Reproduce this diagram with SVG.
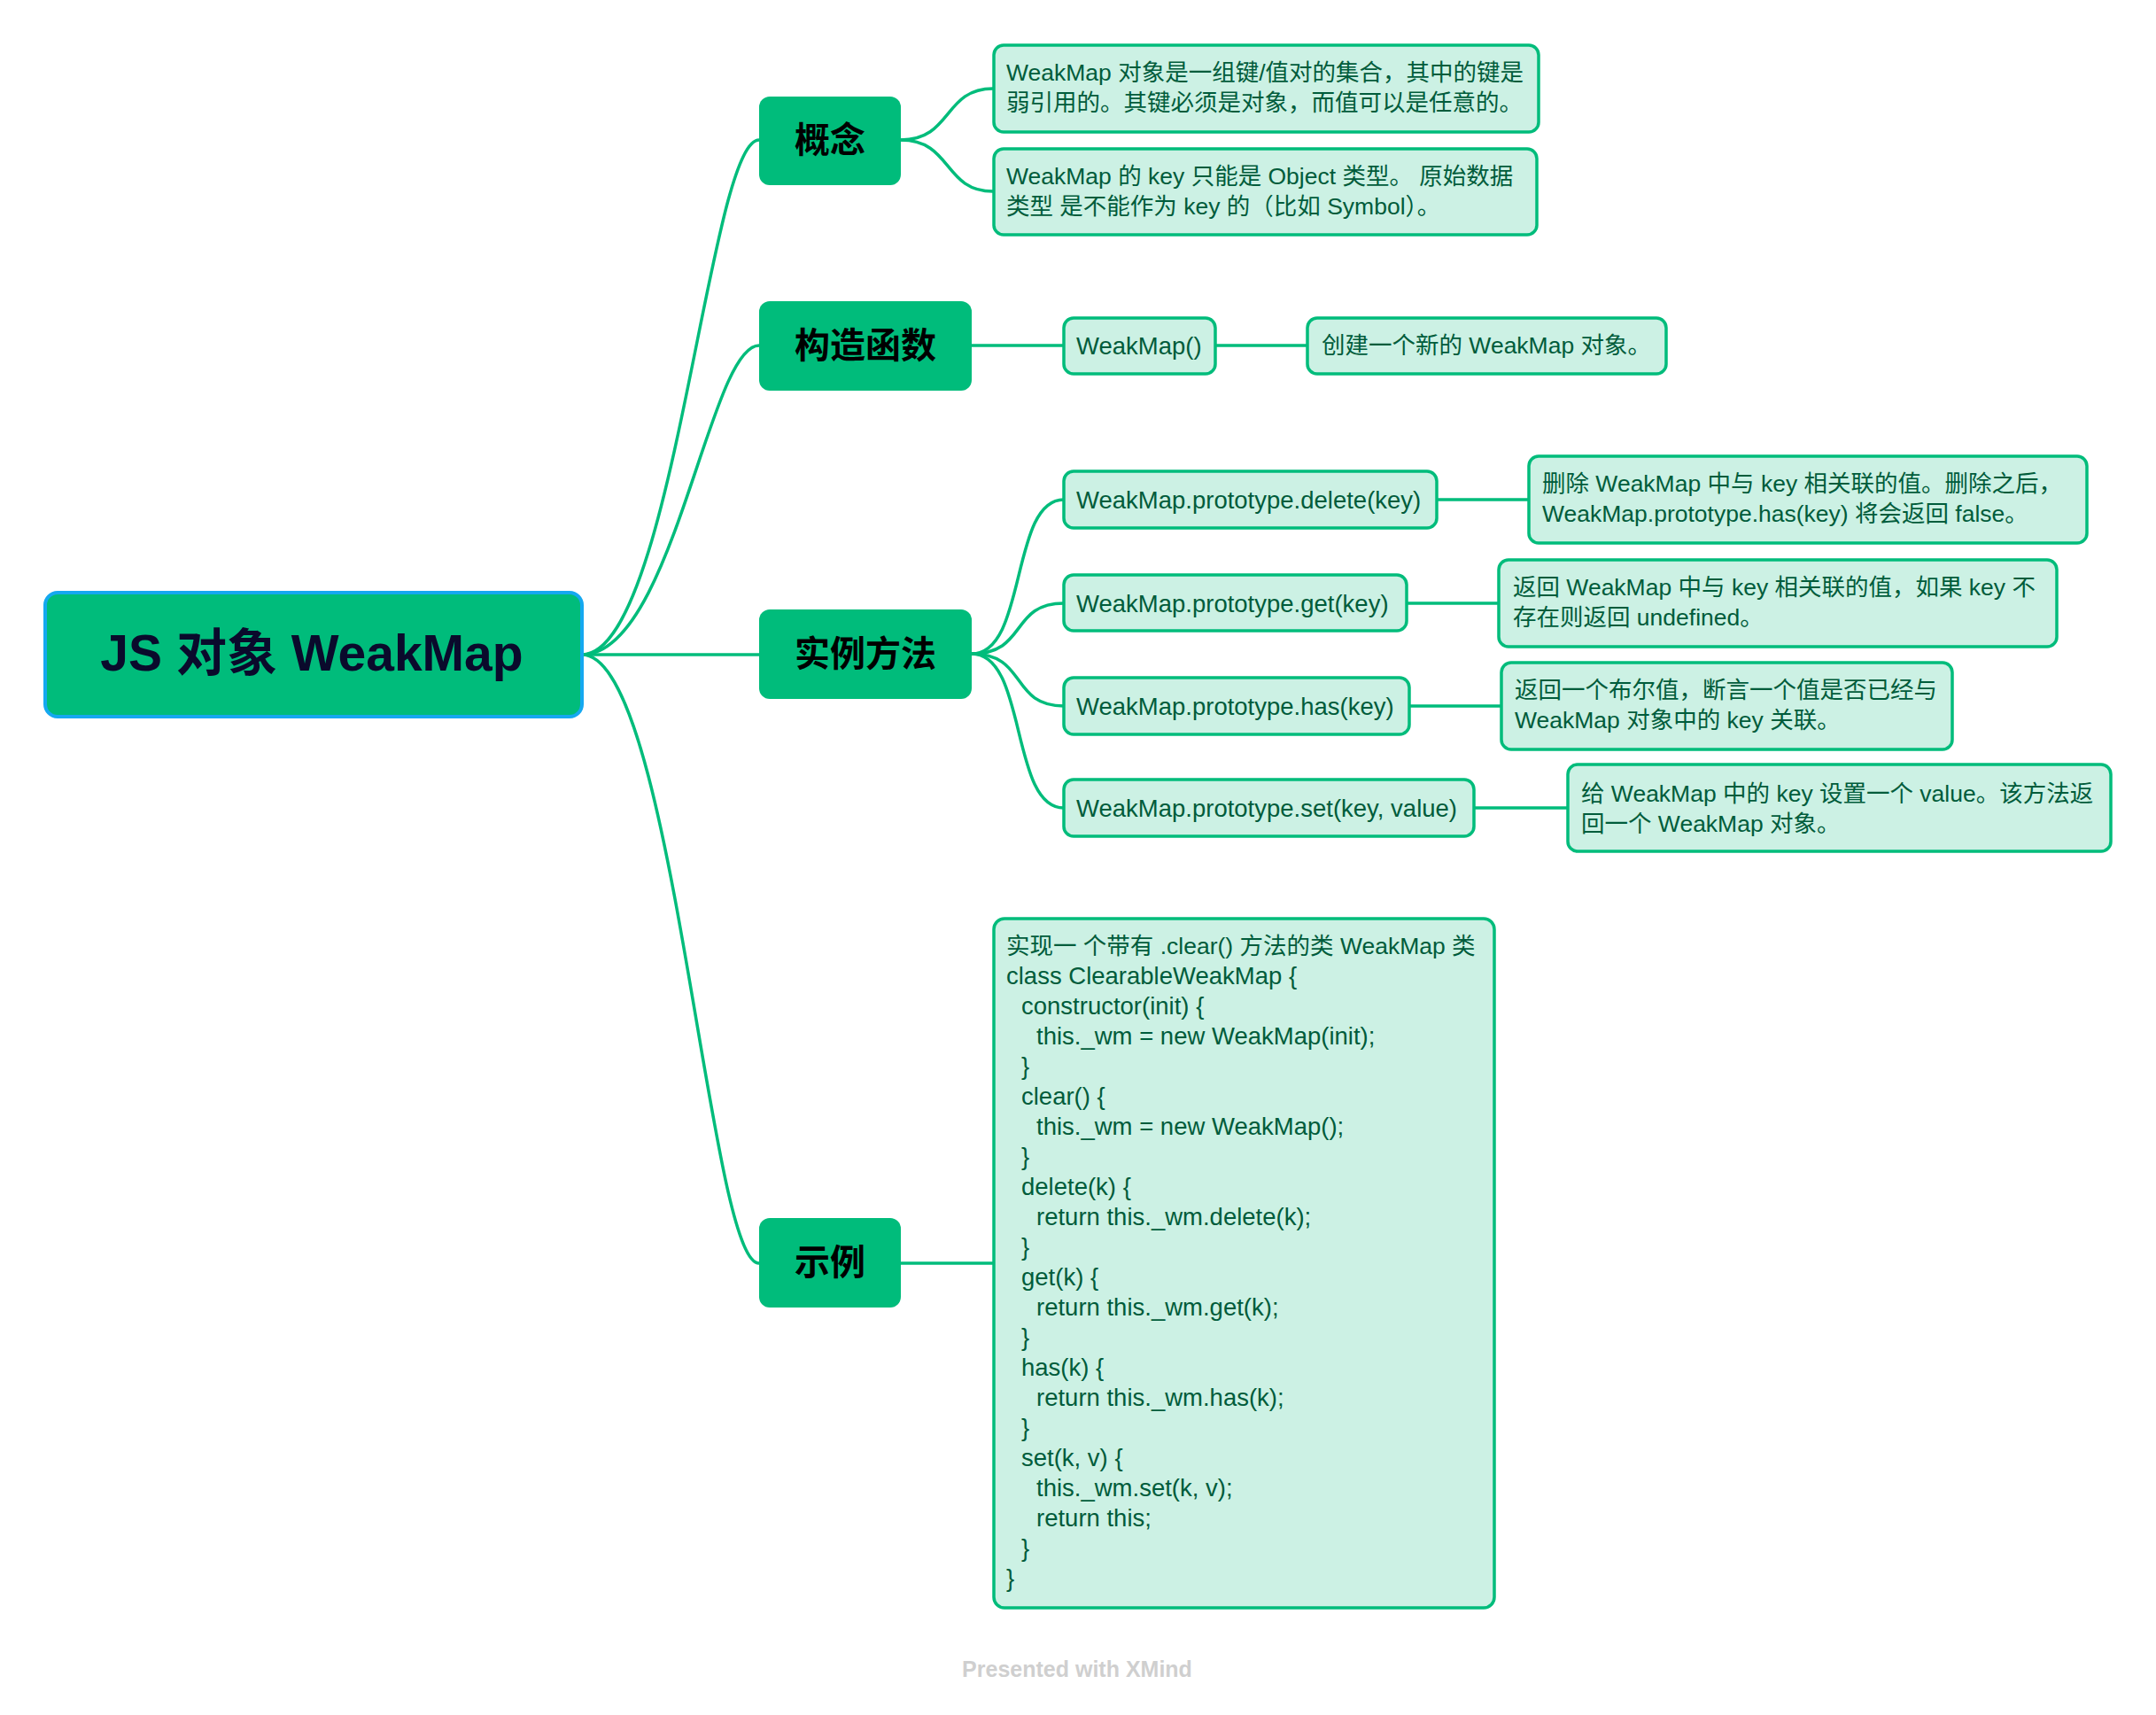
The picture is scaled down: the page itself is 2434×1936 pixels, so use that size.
<svg xmlns="http://www.w3.org/2000/svg" width="2434" height="1936" viewBox="0 0 2434 1936">
  <style>
    .root rect { fill: #00BC7B; stroke: #15A8F0; stroke-width: 4; }
    .root text { font-family: "Liberation Sans", "Noto Sans CJK SC", sans-serif; font-size: 57px; font-weight: bold; fill: #0A0A2C; text-anchor: middle; }
    .branch rect { fill: #00BC7B; }
    .branch text { font-family: "Noto Sans CJK SC", sans-serif; font-size: 40px; font-weight: bold; fill: #000; text-anchor: middle; }
    .leaf rect { fill: #CCF1E4; stroke: #00BC7B; stroke-width: 3.5; }
    .leaf text { font-family: "Liberation Sans", "Noto Sans CJK SC", sans-serif; font-size: 26.5px; fill: #005C3B; }
    .leaf text.lat, .leaf tspan.lat { font-size: 27.5px; }
    #links path { fill: none; stroke: #00BC7B; stroke-width: 3.5; }
    .mark { font-family: "Liberation Sans", sans-serif; font-size: 25px; font-weight: bold; fill: #CFCFCF; text-anchor: middle; }
  </style>

  <rect width="2434" height="1936" fill="#FFFFFF"/>

  <!-- connectors -->
  <g id="links">
    <!-- root to main branches -->
    <path d="M657 739 C760 739 800 158 857 158"/>
    <path d="M657 739 C760 739 800 390 857 390"/>
    <path d="M657 739 L857 739"/>
    <path d="M657 739 C760 739 800 1426 857 1426"/>
    <!-- 概念 -->
    <path d="M1017 158 C1075 158 1065 100 1121 100"/>
    <path d="M1017 158 C1075 158 1065 216 1121 216"/>
    <!-- 构造函数 -->
    <path d="M1097 390 L1201 390"/>
    <path d="M1372 390 L1476 390"/>
    <!-- 实例方法 -->
    <path d="M1097 738 C1160 738 1140 564 1201 564"/>
    <path d="M1097 738 C1160 738 1140 681 1201 681"/>
    <path d="M1097 738 C1160 738 1140 797 1201 797"/>
    <path d="M1097 738 C1160 738 1140 912 1201 912"/>
    <path d="M1622 564 L1726 564"/>
    <path d="M1588 681 L1692 681"/>
    <path d="M1591 797 L1695 797"/>
    <path d="M1664 912 L1770 912"/>
    <!-- 示例 -->
    <path d="M1017 1426 L1121 1426"/>
  </g>

  <!-- central topic -->
  <g id="root" class="root">
    <rect x="51" y="669" width="606" height="140" rx="14"/>
    <text x="352" y="757">JS 对象 WeakMap</text>
  </g>

  <!-- main branches -->
  <g id="concept" class="branch">
    <rect x="857" y="109" width="160" height="100" rx="12"/>
    <text x="937" y="172">概念</text>
  </g>
  <g id="ctor" class="branch">
    <rect x="857" y="340" width="240" height="101" rx="12"/>
    <text x="977" y="404">构造函数</text>
  </g>
  <g id="methods" class="branch">
    <rect x="857" y="688" width="240" height="101" rx="12"/>
    <text x="977" y="752">实例方法</text>
  </g>
  <g id="example" class="branch">
    <rect x="857" y="1375" width="160" height="101" rx="12"/>
    <text x="937" y="1439">示例</text>
  </g>

  <!-- 概念 details -->
  <g id="concept-1" class="leaf">
    <rect x="1122" y="51" width="615" height="98" rx="11"/>
    <text x="1136" y="91">WeakMap 对象是一组键/值对的集合，其中的键是</text>
    <text x="1136" y="125">弱引用的。其键必须是对象，而值可以是任意的。</text>
  </g>
  <g id="concept-2" class="leaf">
    <rect x="1122" y="168" width="613" height="97" rx="11"/>
    <text x="1136" y="208">WeakMap 的 key 只能是 Object 类型。 原始数据</text>
    <text x="1136" y="242">类型 是不能作为 key 的（比如 Symbol）。</text>
  </g>

  <!-- 构造函数 details -->
  <g id="ctor-sig" class="leaf">
    <rect x="1201" y="359" width="171" height="63" rx="11"/>
    <text class="lat" x="1215" y="400">WeakMap()</text>
  </g>
  <g id="ctor-desc" class="leaf">
    <rect x="1476" y="359" width="405" height="63" rx="11"/>
    <text x="1492" y="399">创建一个新的 WeakMap 对象。</text>
  </g>

  <!-- 实例方法 details -->
  <g id="m-delete" class="leaf">
    <rect x="1201" y="532" width="421" height="64" rx="11"/>
    <text class="lat" x="1215" y="574">WeakMap.prototype.delete(key)</text>
  </g>
  <g id="m-delete-desc" class="leaf">
    <rect x="1726" y="515" width="630" height="98" rx="11"/>
    <text x="1741" y="555">删除 WeakMap 中与 key 相关联的值。删除之后，</text>
    <text x="1741" y="589">WeakMap.prototype.has(key) 将会返回 false。</text>
  </g>
  <g id="m-get" class="leaf">
    <rect x="1201" y="649" width="387" height="63" rx="11"/>
    <text class="lat" x="1215" y="691">WeakMap.prototype.get(key)</text>
  </g>
  <g id="m-get-desc" class="leaf">
    <rect x="1692" y="632" width="630" height="98" rx="11"/>
    <text x="1708" y="672">返回 WeakMap 中与 key 相关联的值，如果 key 不</text>
    <text x="1708" y="706">存在则返回 undefined。</text>
  </g>
  <g id="m-has" class="leaf">
    <rect x="1201" y="765" width="390" height="64" rx="11"/>
    <text class="lat" x="1215" y="807">WeakMap.prototype.has(key)</text>
  </g>
  <g id="m-has-desc" class="leaf">
    <rect x="1695" y="748" width="509" height="98" rx="11"/>
    <text x="1710" y="788">返回一个布尔值，断言一个值是否已经与</text>
    <text x="1710" y="822">WeakMap 对象中的 key 关联。</text>
  </g>
  <g id="m-set" class="leaf">
    <rect x="1201" y="880" width="463" height="64" rx="11"/>
    <text class="lat" x="1215" y="922">WeakMap.prototype.set(key, value)</text>
  </g>
  <g id="m-set-desc" class="leaf">
    <rect x="1770" y="863" width="613" height="98" rx="11"/>
    <text x="1785" y="905">给 WeakMap 中的 key 设置一个 value。该方法返</text>
    <text x="1785" y="939">回一个 WeakMap 对象。</text>
  </g>

  <!-- 示例 code -->
  <g id="example-code" class="leaf">
    <rect x="1122" y="1037" width="565" height="778" rx="12"/>
    <text>
      <tspan x="1136" y="1077">实现一 个带有 .clear() 方法的类 WeakMap 类</tspan>
      <tspan class="lat" x="1136" y="1111">class ClearableWeakMap {</tspan>
      <tspan class="lat" x="1153" y="1145">constructor(init) {</tspan>
      <tspan class="lat" x="1170" y="1179">this._wm = new WeakMap(init);</tspan>
      <tspan class="lat" x="1153" y="1213">}</tspan>
      <tspan class="lat" x="1153" y="1247">clear() {</tspan>
      <tspan class="lat" x="1170" y="1281">this._wm = new WeakMap();</tspan>
      <tspan class="lat" x="1153" y="1315">}</tspan>
      <tspan class="lat" x="1153" y="1349">delete(k) {</tspan>
      <tspan class="lat" x="1170" y="1383">return this._wm.delete(k);</tspan>
      <tspan class="lat" x="1153" y="1417">}</tspan>
      <tspan class="lat" x="1153" y="1451">get(k) {</tspan>
      <tspan class="lat" x="1170" y="1485">return this._wm.get(k);</tspan>
      <tspan class="lat" x="1153" y="1519">}</tspan>
      <tspan class="lat" x="1153" y="1553">has(k) {</tspan>
      <tspan class="lat" x="1170" y="1587">return this._wm.has(k);</tspan>
      <tspan class="lat" x="1153" y="1621">}</tspan>
      <tspan class="lat" x="1153" y="1655">set(k, v) {</tspan>
      <tspan class="lat" x="1170" y="1689">this._wm.set(k, v);</tspan>
      <tspan class="lat" x="1170" y="1723">return this;</tspan>
      <tspan class="lat" x="1153" y="1757">}</tspan>
      <tspan class="lat" x="1136" y="1791">}</tspan>
    </text>
  </g>

  <text class="mark" x="1216" y="1893">Presented with XMind</text>
</svg>
